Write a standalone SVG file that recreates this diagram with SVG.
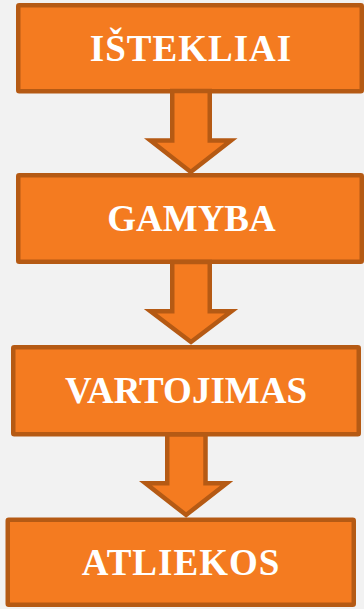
<svg xmlns="http://www.w3.org/2000/svg" width="364" height="609" viewBox="0 0 364 609">
<style>
.box{fill:#F47B20;stroke:#B55A14;stroke-width:4.5}
.arrow{fill:#F47B20;stroke:#B55A14;stroke-width:4.5;stroke-linejoin:miter}
.lbl{font-family:"Liberation Serif","Times New Roman",serif;font-weight:bold;font-size:37px;fill:#FFFFFF;text-anchor:middle}
.sp{letter-spacing:1px}
</style>
<rect width="364" height="609" fill="#F2F2F2"/>
<g id="n1"><rect class="box" x="18.25" y="5.25" width="343.5" height="86" rx="1"/><text class="lbl sp" x="191" y="61">IŠTEKLIAI</text></g>
<g id="n2"><rect class="box" x="18.25" y="175.25" width="343.5" height="86.5" rx="1"/><text class="lbl" x="191.5" y="231">GAMYBA</text></g>
<g id="n3"><rect class="box" x="13.25" y="347.25" width="345.5" height="87" rx="1"/><text class="lbl" x="186" y="402.5">VARTOJIMAS</text></g>
<g id="n4"><rect class="box" x="7.75" y="519.75" width="346" height="85" rx="1"/><text class="lbl sp" x="181" y="575">ATLIEKOS</text></g>
<g id="connectors">
<path class="arrow" d="M172.25,91 V140.5 H150.5 L190.75,172 L231,140.5 H209.75 V91 Z"/>
<path class="arrow" d="M172.25,262 V311.25 H150.5 L191,342 L231.5,311.25 H209.75 V262 Z"/>
<path class="arrow" d="M167.25,434.5 V483.25 H145.5 L186.1,515 L226.75,483.25 H205.5 V434.5 Z"/>
</g>
</svg>
